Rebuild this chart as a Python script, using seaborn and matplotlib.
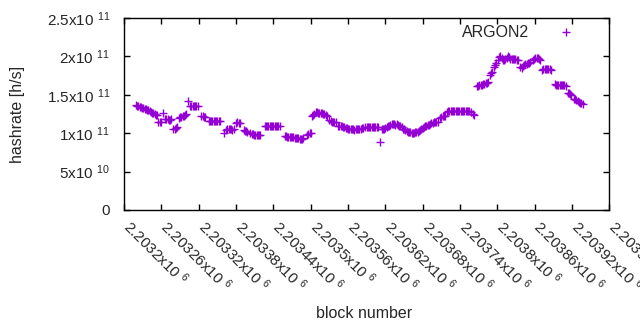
import matplotlib
matplotlib.use("Agg")

import matplotlib.pyplot as plt
import matplotlib.transforms as mtransforms
import seaborn as sns
import pandas as pd

# block offsets from 2203200 and hashrate (x1e11 h/s)
BLOCK_BASE = 2203200
block_offset = [
    19, 21, 23, 25, 27, 29, 31, 33, 35, 37, 39, 41, 43, 45, 47, 49, 51, 53,
    55, 57, 59, 63, 66, 68, 70, 72, 74, 76, 79, 81, 83, 85,
    88, 90, 92, 94, 96, 98, 100, 103, 106, 108, 110, 112, 114, 116, 118,
    124, 126, 128, 130, 136, 138, 140, 142, 144, 146, 148, 150, 152, 154,
    161, 164, 166, 168, 170, 172, 174, 176, 180, 182, 184, 186, 192, 194, 196, 198,
    203, 205, 207, 209, 211, 213, 215, 217, 219,
    226, 228, 230, 232, 234, 236, 238, 240, 242, 244, 246, 248, 250,
    258, 260, 262, 264, 266, 268, 270, 272, 274, 276, 278, 280, 282, 284, 286, 288,
    294, 296, 298, 300,
    302, 304, 306, 308, 310, 312, 314, 316, 318, 320, 322, 324, 326,
    330, 332, 334, 336, 338, 340,
    344, 346, 348, 350, 352, 354, 356, 358, 360, 362, 364, 366, 368, 370, 372, 374, 376, 378, 380, 382, 384,
    388, 390, 392, 394, 396, 398, 400, 402, 404, 406, 408,
    412,
    414, 416, 418, 420, 422, 424, 426, 428, 430, 432, 434, 436, 438, 440, 442, 444, 446,
    448, 450, 452, 454, 456, 458, 460, 462, 464, 466, 468, 470, 472, 474, 476,
    478, 480, 482, 484, 486, 488, 490, 492, 494, 496, 498, 500, 502, 504,
    508, 510, 512, 514, 516,
    519, 521, 523, 525, 527, 529, 531, 533, 535, 537, 539, 541, 543, 545, 547, 549, 551, 553, 555,
    558, 561, 563,
    567, 569, 571, 573, 575, 577, 579, 581, 583, 585,
    588, 590, 592, 594, 596, 598,
    601, 603, 605, 607, 609, 611, 613, 615, 617, 619, 621, 623, 625, 627, 629, 631, 633,
    637, 639, 641, 643, 645, 647, 649, 651, 653,
    657, 659, 661, 663, 665, 667, 669,
    672, 674, 676, 678, 680, 682, 684, 686,
    692, 694, 696, 698, 700, 702, 704, 706, 708, 710,
    713, 715, 717, 719,
    723, 725, 727, 729, 731, 733, 735, 737,
]
hashrate_e11 = [
    1.37, 1.36, 1.35, 1.34, 1.34, 1.33, 1.33, 1.32, 1.31, 1.30, 1.30, 1.29, 1.27, 1.26, 1.26, 1.25, 1.24, 1.24,
    1.14, 1.15, 1.14, 1.26, 1.19, 1.18, 1.18, 1.17, 1.17, 1.18, 1.06, 1.05, 1.07, 1.08,
    1.20, 1.21, 1.21, 1.22, 1.22, 1.24, 1.25, 1.42, 1.36, 1.35, 1.35, 1.35, 1.36, 1.35, 1.35,
    1.22, 1.22, 1.21, 1.21, 1.16, 1.16, 1.16, 1.16, 1.16, 1.16, 1.16, 1.16, 1.16, 1.16,
    1.00, 1.04, 1.05, 1.05, 1.05, 1.05, 1.04, 1.05, 1.13, 1.14, 1.13, 1.13, 1.04, 1.03, 1.03, 1.02,
    1.00, 0.99, 0.99, 0.98, 0.98, 0.98, 0.98, 0.98, 0.98,
    1.09, 1.10, 1.09, 1.10, 1.09, 1.09, 1.09, 1.10, 1.09, 1.09, 1.09, 1.09, 1.09,
    0.96, 0.96, 0.95, 0.95, 0.95, 0.95, 0.95, 0.95, 0.94, 0.94, 0.94, 0.94, 0.93, 0.93, 0.93, 0.94,
    0.98, 0.99, 1.00, 1.00,
    1.22, 1.24, 1.25, 1.27, 1.27, 1.26, 1.26, 1.26, 1.26, 1.25, 1.25, 1.24, 1.23,
    1.17, 1.16, 1.15, 1.15, 1.15, 1.14,
    1.10, 1.10, 1.09, 1.09, 1.08, 1.08, 1.07, 1.07, 1.06, 1.06, 1.05, 1.05, 1.05, 1.04, 1.05, 1.05, 1.05, 1.06, 1.06, 1.07, 1.07,
    1.08, 1.08, 1.08, 1.08, 1.08, 1.08, 1.08, 1.08, 1.08, 1.08, 1.08,
    0.89,
    1.06, 1.05, 1.06, 1.07, 1.08, 1.09, 1.10, 1.11, 1.12, 1.12, 1.12, 1.11, 1.12, 1.11, 1.10, 1.09, 1.08,
    1.06, 1.05, 1.04, 1.03, 1.02, 1.01, 1.01, 1.00, 1.00, 1.00, 1.01, 1.01, 1.02, 1.03, 1.04,
    1.05, 1.07, 1.08, 1.09, 1.10, 1.11, 1.11, 1.12, 1.13, 1.13, 1.14, 1.14, 1.15, 1.15,
    1.20, 1.21, 1.22, 1.23, 1.22,
    1.28, 1.29, 1.29, 1.29, 1.29, 1.29, 1.29, 1.29, 1.29, 1.29, 1.29, 1.29, 1.29, 1.29, 1.29, 1.29, 1.29, 1.29, 1.29,
    1.27, 1.25, 1.24,
    1.62, 1.62, 1.63, 1.63, 1.63, 1.64, 1.64, 1.65, 1.66, 1.67,
    1.76, 1.78, 1.80, 1.86, 1.89, 1.91,
    1.96, 1.99, 2.00, 1.98, 1.96, 1.96, 1.97, 1.98, 2.00, 1.99, 1.97, 1.97, 1.97, 1.97, 1.97, 1.96, 1.96,
    1.86, 1.85, 1.87, 1.89, 1.90, 1.90, 1.91, 1.91, 1.93,
    1.95, 1.97, 1.98, 1.98, 1.98, 1.97, 1.96,
    1.83, 1.84, 1.84, 1.84, 1.84, 1.84, 1.84, 1.83,
    1.64, 1.63, 1.63, 1.63, 1.63, 1.63, 1.63, 1.63, 1.63, 1.62,
    1.52, 1.52, 1.51, 1.50,
    1.45, 1.44, 1.43, 1.42, 1.41, 1.40, 1.39, 1.38,
]

x_ticks_mant = ["2.2032", "2.20326", "2.20332", "2.20338", "2.20344", "2.2035", "2.20356",
                "2.20362", "2.20368", "2.20374", "2.2038", "2.20386", "2.20392", "2.20398"]
y_ticks = [0, 5e10, 1e11, 1.5e11, 2e11, 2.5e11]
y_tick_labels = ["0", "5x10 $^{10}$", "1x10 $^{11}$", "1.5x10 $^{11}$", "2x10 $^{11}$", "2.5x10 $^{11}$"]

COLOR = "#9400D3"

sns.set_style("ticks")
plt.rcParams["font.family"] = ["Liberation Sans", "DejaVu Sans"]
plt.rcParams["mathtext.fontset"] = "custom"
plt.rcParams["mathtext.rm"] = "Liberation Sans"
plt.rcParams["mathtext.it"] = "Liberation Sans:italic"
plt.rcParams["mathtext.bf"] = "Liberation Sans:bold"

df = pd.DataFrame({
    "block": [BLOCK_BASE + b for b in block_offset],
    "hashrate": [v * 1e11 for v in hashrate_e11],
})

fig = plt.figure(figsize=(6.4, 3.3), dpi=100)
ax = fig.add_axes([0.194, 0.364, 0.758, 0.581])
sns.scatterplot(data=df, x="block", y="hashrate", marker="+", color=COLOR,
                s=38, linewidth=1.0, label="ARGON2", ax=ax)

x_ticks = [float(m) * 1e6 for m in x_ticks_mant]
ax.set_xlim(x_ticks[0], x_ticks[-1])
ax.set_ylim(0, 2.5e11)
ax.set_xticks(x_ticks)
ax.set_xticklabels([m + "x10 $^{6}$" for m in x_ticks_mant], rotation=-45,
                   ha="left", va="top", rotation_mode="anchor", fontsize=11)
ax.set_yticks(y_ticks)
ax.set_yticklabels(y_tick_labels, fontsize=11)
ax.tick_params(direction="in", top=True, right=True, length=4, width=1, color="black")
ax.tick_params(axis="y", pad=10)
ax.tick_params(axis="x", pad=5)
shift = mtransforms.ScaledTranslation(9 / 100, 0, fig.dpi_scale_trans)
for lbl in ax.get_xticklabels():
    lbl.set_transform(lbl.get_transform() + shift)
for s in ax.spines.values():
    s.set_linewidth(1.0)
    s.set_color("black")

ax.set_xlabel("block number", fontsize=11.5)
ax.set_ylabel("hashrate [h/s]", fontsize=11.5)
ax.xaxis.set_label_coords(0.495, -0.50)
ax.yaxis.set_label_coords(-0.205, 0.5)

ax.legend(loc="upper right", bbox_to_anchor=(0.969, 1.0), frameon=False, markerfirst=False,
          handlelength=2.7, handletextpad=1.0, borderaxespad=0, fontsize=11.5)

fig.savefig("out.png", dpi=100)
